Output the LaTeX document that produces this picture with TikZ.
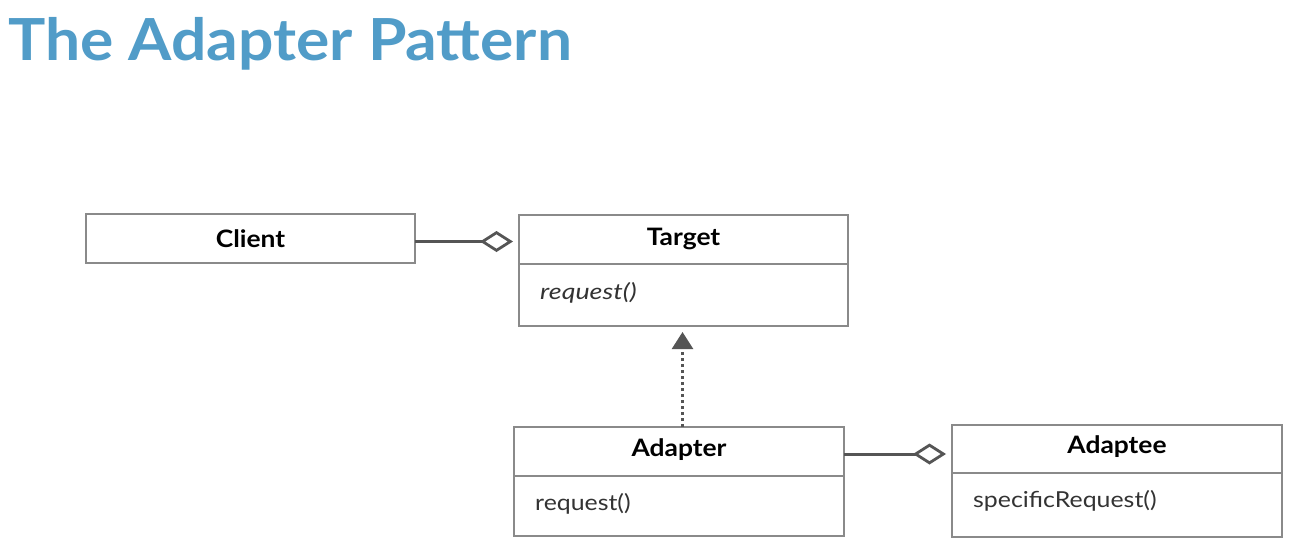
\documentclass[tikz,border=0pt]{standalone}
\usepackage{graphicx}
\usepackage{fontspec}
\setmainfont{Lato}
\usetikzlibrary{arrows.meta}
\definecolor{titleblue}{HTML}{519CC8}
\definecolor{boxgray}{HTML}{8A8A8A}
\definecolor{conngray}{HTML}{555555}
\definecolor{textgray}{HTML}{333333}
\newcommand\widetxt[2]{\scalebox{#1}[1]{#2}}
\tikzset{
  umlbox/.style={draw=boxgray, line width=2pt, fill=white, inner sep=0pt, outer sep=0pt},
  headtxt/.style={font=\fontsize{24}{26}\selectfont\bfseries, text=black, inner sep=0pt},
  bodytxt/.style={font=\fontsize{22}{24}\selectfont, text=textgray, anchor=base west, inner sep=0pt},
  aggr/.style={draw=conngray, line width=3pt, -{Diamond[open, length=33pt, width=21pt, line width=2.8pt]}, shorten >=6pt},
  realize/.style={draw=conngray, line width=2.5pt, dash pattern=on 3pt off 3pt, -{Triangle[length=17pt, width=21pt, fill=conngray]}, shorten >=6pt}
}
\begin{document}
\begin{tikzpicture}[x=1pt, y=-1pt]
\useasboundingbox (0,0) rectangle (1295,552);
\fill[white] (0,0) rectangle (1295,552);
% title
\node[anchor=base west, inner sep=0pt, text=titleblue, font=\fontsize{58}{60}\selectfont\bfseries] (title) at (8,60) {\widetxt{1.075}{The Adapter Pattern}};
% Client
\node[umlbox, minimum width=329pt, minimum height=49pt] (client) at (250.5,238.5) {};
\node[headtxt] (clientt) at (client.center) {\widetxt{1.1}{Client}};
% Target
\node[umlbox, minimum width=329pt, minimum height=49pt] (targeth) at (683.5,239.5) {};
\node[umlbox, minimum width=329pt, minimum height=62pt] (targetb) at (683.5,295) {};
\node[headtxt] (targett) at ([yshift=1pt]targeth.center) {\widetxt{1.1}{Target}};
\node[bodytxt] (targetm) at (540,299) {\widetxt{1.22}{\itshape request()}};
% Adapter
\node[umlbox, minimum width=330pt, minimum height=49pt] (adapterh) at (679,451.5) {};
\node[umlbox, minimum width=330pt, minimum height=60pt] (adapterb) at (679,506) {};
\node[headtxt] (adaptert) at ([yshift=2pt]adapterh.center) {\widetxt{1.1}{Adapter}};
\node[bodytxt] (adapterm) at (535,510) {\widetxt{1.13}{request()}};
% Adaptee
\node[umlbox, minimum width=330pt, minimum height=48pt] (adapteeh) at (1117,449) {};
\node[umlbox, minimum width=330pt, minimum height=64pt] (adapteeb) at (1117,505) {};
\node[headtxt] (adapteet) at ([yshift=2.5pt]adapteeh.center) {\widetxt{1.1}{Adaptee}};
\node[bodytxt] (adapteem) at (973,507) {\widetxt{1.13}{specificRequest()}};
% connectors
\draw[aggr] ([yshift=-3pt]client.east) -- ([yshift=-3pt]client.east -| targeth.west);
\draw[aggr] ([yshift=-2.5pt]adapterh.east) -- ([yshift=-2.5pt]adapterh.east -| adapteeh.west);
\draw[realize] ([xshift=3.5pt]adapterh.north) -- ([xshift=3.5pt]adapterh.north |- targetb.south);
\end{tikzpicture}
\end{document}
